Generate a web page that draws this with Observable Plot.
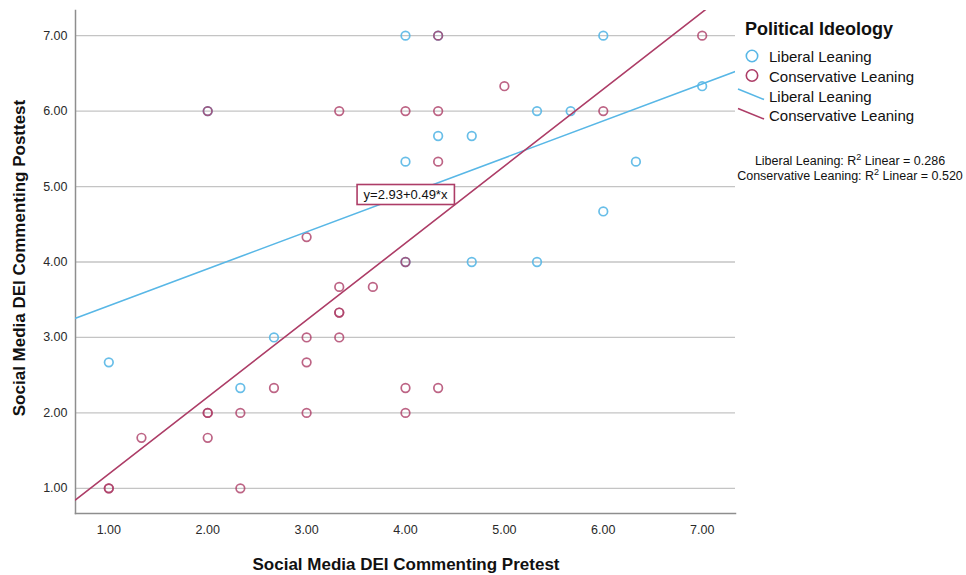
<!DOCTYPE html>
<html>
<head>
<meta charset="utf-8">
<script src="https://cdn.jsdelivr.net/npm/d3@7"></script>
<script src="https://cdn.jsdelivr.net/npm/@observablehq/plot@0.6"></script>
<style>
  body { margin: 0; background: #fff; }
  #wrap { position: relative; width: 966px; height: 575px; overflow: hidden; }
</style>
</head>
<body>
<div id="wrap"></div>
<script>
// Pretest (x) and posttest (y) scores, liberal-leaning respondents
const liberalX = [4, 4.33, 6, 7, 2, 5.33, 5.67, 4.33, 4.67, 4, 6.33, 6, 4, 4.67, 5.33, 2.67, 1, 2.33];
const liberalY = [7, 7, 7, 6.33, 6, 6, 6, 5.67, 5.67, 5.33, 5.33, 4.67, 4, 4, 4, 3, 2.67, 2.33];

// Pretest (x) and posttest (y) scores, conservative-leaning respondents
const conservativeX = [4.33, 7, 5, 2, 3.33, 4, 4.33, 6, 4.33, 3, 4, 3.33, 3.67, 3.33, 3.33, 3, 3.33, 3, 2.67, 4, 4.33, 2, 2, 2.33, 3, 4, 1.33, 2, 1, 1, 2.33];
const conservativeY = [7, 7, 6.33, 6, 6, 6, 6, 6, 5.33, 4.33, 4, 3.67, 3.67, 3.33, 3.33, 3, 3, 2.67, 2.33, 2.33, 2.33, 2, 2, 2, 2, 2, 1.67, 1.67, 1, 1, 1];

// Linear fit lines: [intercept, slope]
const liberalFit = [2.93, 0.49];
const conservativeFit = [0.17, 1.02];

// R² of each fit
const groupNames = ["Liberal Leaning", "Conservative Leaning"];
const rSquared = [0.286, 0.520];

// Axis ticks
const xTicks = [1, 2, 3, 4, 5, 6, 7];
const yTicks = [1, 2, 3, 4, 5, 6, 7];

const BLUE = "#58b7e6";
const RED = "#ad3d67";
const FONT = "'Liberation Sans', Arial, sans-serif";

const xDomain = [0.663, 7.337];
const yDomain = [0.667, 7.333];

const liberal = liberalX.map((x, i) => ({x, y: liberalY[i]}));
const conservative = conservativeX.map((x, i) => ({x, y: conservativeY[i]}));
const fitLine = ([a, b]) => xDomain.map(x => ({x, y: a + b * x}));
const fmt = d => d.toFixed(2);

// The equation label sits on the liberal fit line at x = 4
const labelX = 4;
const equationText = `y=${liberalFit[0].toFixed(2)}+${liberalFit[1].toFixed(2)}*x`;
const equation = [{x: labelX, y: liberalFit[0] + liberalFit[1] * labelX, text: equationText}];

const chart = Plot.plot({
  width: 966,
  height: 575,
  marginLeft: 75,
  marginRight: 231,
  marginTop: 10,
  marginBottom: 62,
  style: {fontFamily: FONT, fontSize: "12px", color: "#2a2a2a", background: "#fff", overflow: "visible"},
  x: {domain: xDomain},
  y: {domain: yDomain},
  marks: [
    Plot.gridY(yTicks, {stroke: "#c4c4c4", strokeOpacity: 1, strokeWidth: 1.3}),
    Plot.axisY(yTicks, {tickSize: 0, tickPadding: 8, tickFormat: fmt, label: null, fontSize: 12.5}),
    Plot.axisX(xTicks, {tickSize: 0, tickPadding: 12, tickFormat: fmt, label: null, fontSize: 12.5}),
    Plot.frame({anchor: "left", stroke: "#8e8e8e", strokeWidth: 1.5}),
    Plot.frame({anchor: "bottom", stroke: "#8e8e8e", strokeWidth: 1.5}),
    Plot.dot(liberal, {x: "x", y: "y", r: 4.3, stroke: BLUE, strokeWidth: 1.7, strokeOpacity: 0.9, fill: "none"}),
    Plot.dot(conservative, {x: "x", y: "y", r: 4.3, stroke: RED, strokeWidth: 1.7, strokeOpacity: 0.8, fill: "none"}),
    Plot.line(fitLine(liberalFit), {x: "x", y: "y", stroke: BLUE, strokeWidth: 1.6, clip: true}),
    Plot.line(fitLine(conservativeFit), {x: "x", y: "y", stroke: RED, strokeWidth: 1.6, clip: true}),
    Plot.text(equation, {x: "x", y: "y", text: "text", fontSize: 13, fill: "#111"})
  ]
});

const wrap = document.getElementById("wrap");
wrap.append(chart);
const svg = d3.select(chart);

// Box behind the equation label (shares the label's own transform)
svg.selectAll("text").filter(function () { return this.textContent === equationText; }).each(function () {
  const bb = this.getBBox();
  d3.select(this.parentNode).insert("rect", () => this)
    .attr("transform", this.getAttribute("transform"))
    .attr("x", bb.x - 6.5).attr("y", bb.y - 2.5)
    .attr("width", bb.width + 13).attr("height", bb.height + 5)
    .attr("fill", "#fff").attr("stroke", RED).attr("stroke-width", 1.6);
});

// Axis titles
svg.append("text")
  .attr("x", 406).attr("y", 570)
  .attr("text-anchor", "middle")
  .attr("font-family", FONT).attr("font-size", 17).attr("font-weight", "bold").attr("fill", "#111")
  .text("Social Media DEI Commenting Pretest");
svg.append("text")
  .attr("transform", "translate(25,258) rotate(-90)")
  .attr("text-anchor", "middle")
  .attr("font-family", FONT).attr("font-size", 17).attr("font-weight", "bold").attr("fill", "#111")
  .text("Social Media DEI Commenting Posttest");

// Legend
const lg = svg.append("g").attr("font-family", FONT).attr("fill", "#111").attr("text-anchor", "start");
lg.append("text").attr("x", 745).attr("y", 35)
  .attr("font-size", 18).attr("font-weight", "bold").text("Political Ideology");
const colors = [BLUE, RED];
groupNames.forEach((name, i) => {
  const cy = 56 + i * 19.5;
  lg.append("circle").attr("cx", 752).attr("cy", cy).attr("r", 5.7)
    .attr("fill", "none").attr("stroke", colors[i]).attr("stroke-width", 1.6);
  lg.append("text").attr("x", 769).attr("y", cy + 6).attr("font-size", 15).text(name);
});
groupNames.forEach((name, i) => {
  const y0 = 89 + i * 19.5;
  lg.append("line").attr("x1", 738).attr("y1", y0).attr("x2", 764).attr("y2", y0 + 10.5)
    .attr("stroke", colors[i]).attr("stroke-width", 1.6);
  lg.append("text").attr("x", 769).attr("y", y0 + 12.5).attr("font-size", 15).text(name);
});
groupNames.forEach((name, i) => {
  const t = lg.append("text").attr("x", 850).attr("y", 165 + i * 14.5)
    .attr("text-anchor", "middle").attr("font-size", 12.5);
  t.append("tspan").text(`${name}: R`);
  t.append("tspan").attr("dy", -5).attr("font-size", 9).text("2");
  t.append("tspan").attr("dy", 5).text(` Linear = ${rSquared[i].toFixed(3)}`);
});
</script>
</body>
</html>
